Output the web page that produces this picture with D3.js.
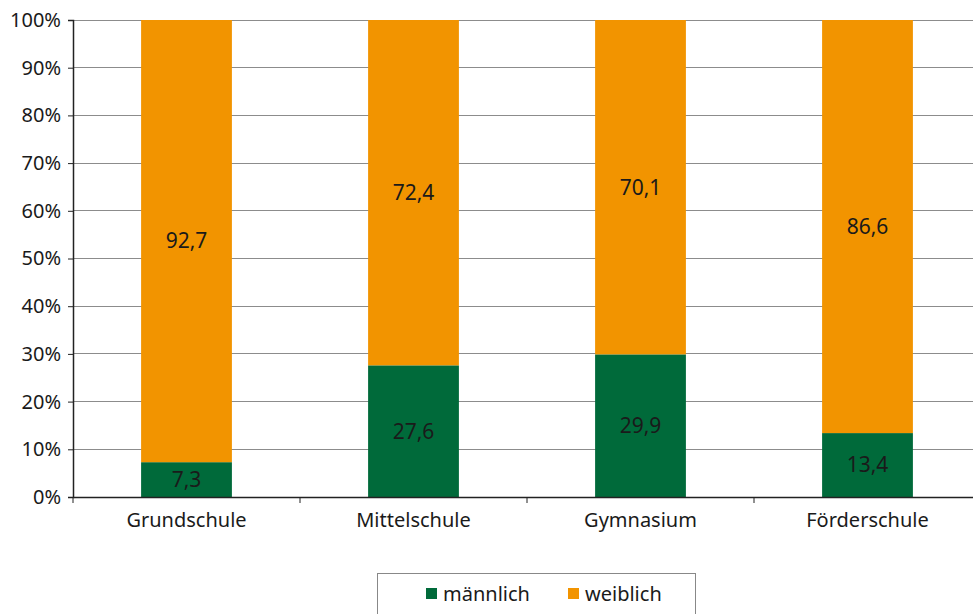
<!DOCTYPE html>
<html><head><meta charset="utf-8">
<script src="https://cdn.jsdelivr.net/npm/d3@7"></script>
<style>body{margin:0;background:#fff}svg{display:block;font-family:"Noto Sans",sans-serif}</style>
</head><body><svg id="c" width="973" height="614"></svg>
<script>
const categories = ["Grundschule","Mittelschule","Gymnasium","Förderschule"];
const maennlich = [7.3,27.6,29.9,13.4];
const weiblich = [92.7,72.4,70.1,86.6];
const seriesNames = ["männlich","weiblich"];
const yTicks = [0,10,20,30,40,50,60,70,80,90,100];
const colors = ["#006a3a","#f29400"];

const svg = d3.select("#c");
const m = {l:73, t:20, b:497, r:981};
const x = d3.scaleBand().domain(categories).range([m.l,m.r]).paddingInner(0.6).paddingOuter(0.3);
const y = d3.scaleLinear().domain([0,100]).range([m.b,m.t]);

// gridlines
svg.append("g").selectAll("line").data(yTicks.slice(1)).join("line")
  .attr("x1",m.l).attr("x2",973).attr("y1",d=>y(d)).attr("y2",d=>y(d))
  .attr("stroke","#8c8c8c").attr("stroke-width",1).attr("shape-rendering","crispEdges");

const rows = categories.map((c,i)=>({cat:c, maennlich:maennlich[i], weiblich:weiblich[i]}));
const stack = d3.stack().keys(["maennlich","weiblich"])(rows);
const g = svg.append("g");
stack.forEach((s,si)=>{
  g.selectAll(null).data(s).join("rect")
    .attr("x",d=>x(d.data.cat)).attr("width",x.bandwidth())
    .attr("y",d=>y(d[1])).attr("height",d=>y(d[0])-y(d[1]))
    .attr("fill",colors[si]);
  g.selectAll(null).data(s).join("text")
    .attr("x",d=>x(d.data.cat)+x.bandwidth()/2)
    .attr("y",d=>(y(d[0])+y(d[1]))/2)
    .attr("dy","0.35em").attr("text-anchor","middle")
    .attr("font-size",21).attr("fill","#1a1a1a")
    .text(d=>d3.format(".1f")(d[1]-d[0]).replace(".",","));
});

// y axis
const ya = d3.axisLeft(y).tickValues(yTicks).tickFormat(d=>d+"%").tickSize(5).tickPadding(7);
const yg = svg.append("g").attr("transform",`translate(${m.l},0)`).call(ya);
yg.select(".domain").attr("stroke","#222").attr("stroke-width",1.5);
yg.selectAll(".tick line").attr("stroke","#222");
yg.selectAll("text").attr("font-size",20).attr("fill","#1a1a1a").attr("font-family","Noto Sans");

// x axis
const xa = d3.axisBottom(x).tickSize(0).tickPadding(16);
const xg = svg.append("g").attr("transform",`translate(0,${m.b})`).call(xa);
xg.select(".domain").attr("stroke","#222").attr("stroke-width",1.5);
xg.selectAll("text").attr("font-size",20).attr("fill","#1a1a1a").attr("font-family","Noto Sans");
// category separator ticks
const seps = d3.range(categories.length+1).map(i=>m.l+i*(m.r-m.l)/categories.length);
svg.append("g").selectAll("line").data(seps).join("line")
  .attr("x1",d=>d).attr("x2",d=>d).attr("y1",m.b).attr("y2",m.b+6)
  .attr("stroke","#222");

// legend
const lg = svg.append("g");
lg.append("rect").attr("x",377.5).attr("y",573.5).attr("width",318).attr("height",50)
  .attr("fill","#fff").attr("stroke","#888");
const lx = [426,568];
seriesNames.forEach((n,i)=>{
  lg.append("rect").attr("x",lx[i]).attr("y",588).attr("width",11).attr("height",11).attr("fill",colors[i]);
  lg.append("text").attr("x",lx[i]+17).attr("y",594).attr("dy","0.35em")
    .attr("font-size",20).attr("fill","#1a1a1a").text(n);
});
</script></body></html>
